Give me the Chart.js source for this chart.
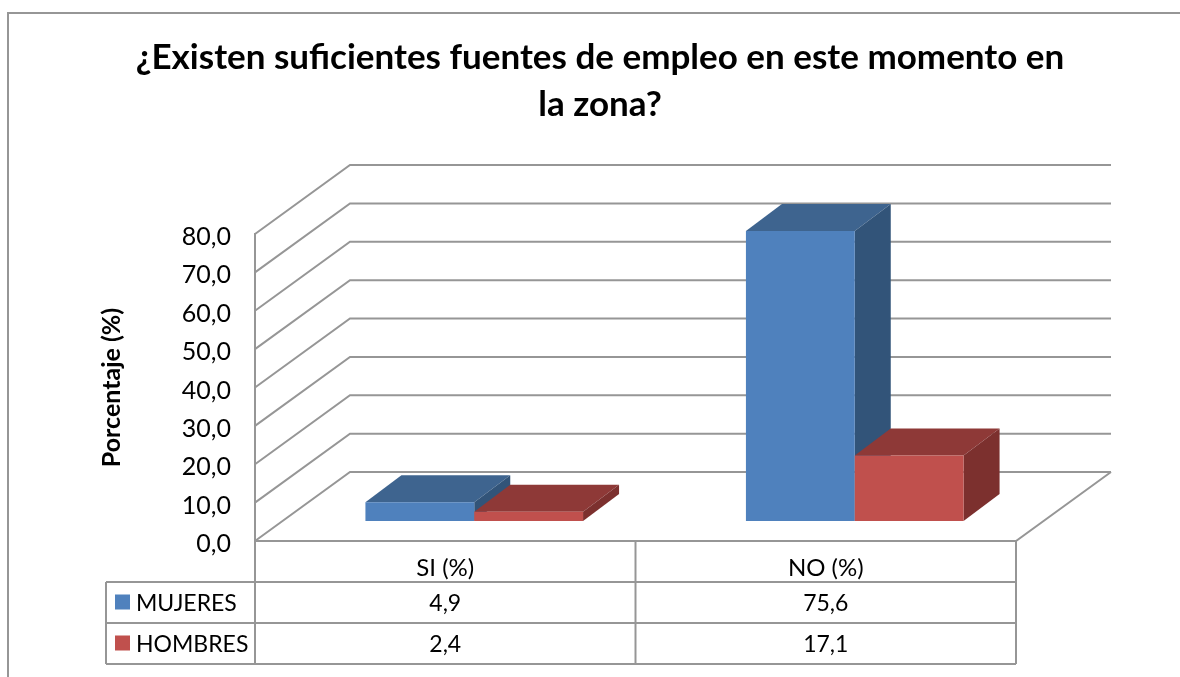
<!DOCTYPE html>
<html>
<head>
<meta charset="utf-8">
<script src="https://cdn.jsdelivr.net/npm/chart.js@4"></script>
<style>
  html, body { margin: 0; padding: 0; background: #fff; }
  canvas { display: block; }
</style>
</head>
<body>
<canvas id="myChart" width="1180" height="677"></canvas>
<script>
const titleLines = ["¿Existen suficientes fuentes de empleo en este momento en", "la zona?"];
const yAxisTitle = "Porcentaje (%)";
const categories = ["SI (%)", "NO (%)"];
const mujeres = [4.9, 75.6];
const hombres = [2.4, 17.1];
const yTicks = [0, 10, 20, 30, 40, 50, 60, 70, 80];

const fontName = "Lato, Carlito, Calibri, sans-serif";
const lineColor = "#969696";

// depth of the fake 3d box
const wallDx = 95, wallDy = -69;
const barShiftX = 29, barShiftY = -20;
const barDx = 36, barDy = -27;

function fmt(v) {
  return v.toFixed(1).replace(".", ",");
}

function line(ctx, pts) {
  ctx.beginPath();
  pts.forEach((p, i) => i ? ctx.lineTo(p[0], p[1]) : ctx.moveTo(p[0], p[1]));
  ctx.stroke();
}

function poly(ctx, pts, color) {
  ctx.fillStyle = color;
  ctx.beginPath();
  pts.forEach((p, i) => i ? ctx.lineTo(p[0], p[1]) : ctx.moveTo(p[0], p[1]));
  ctx.closePath();
  ctx.fill();
}

const box3d = {
  id: "box3d",
  afterLayout(chart) {
    // title sits a bit right of the frame center in the original
    chart.titleBlock.left = 20;
    chart.titleBlock.right = 1180;
    // tick labels sit a little low in the original
    const yScale = chart.scales.y;
    const drawLabels = yScale.constructor.prototype.drawLabels;
    yScale.drawLabels = function (area) {
      this.ctx.save();
      this.ctx.translate(0, 3);
      drawLabels.call(this, area);
      this.ctx.restore();
    };
  },
  beforeDraw(chart) {
    const ctx = chart.ctx;
    const { left, right, bottom } = chart.chartArea;
    const yScale = chart.scales.y;
    ctx.save();
    ctx.strokeStyle = lineColor;
    ctx.lineWidth = 2;

    // outer frame, the crop cuts it off on the right and bottom
    line(ctx, [[8, 677], [8, 13], [1180, 13]]);

    // walls and gridlines
    yTicks.forEach((v) => {
      const y = yScale.getPixelForValue(v);
      line(ctx, [[left, y], [left + wallDx, y + wallDy], [right + wallDx, y + wallDy]]);
    });
    // floor
    line(ctx, [[left, bottom], [right, bottom], [right + wallDx, bottom + wallDy]]);
    ctx.restore();
  },
  beforeDatasetsDraw(chart) {
    // draw first series first, the red roof has to lap over the blue side
    const ctx = chart.ctx;
    chart.data.datasets.forEach((ds, i) => {
      const meta = chart.getDatasetMeta(i);
      ctx.save();
      ctx.translate(barShiftX, barShiftY);
      meta.data.forEach((bar) => {
        const l = bar.x - bar.width / 2, r = bar.x + bar.width / 2;
        poly(ctx, [[l, bar.y], [l + barDx, bar.y + barDy], [r + barDx, bar.y + barDy], [r, bar.y]], ds.topColor);
        poly(ctx, [[r, bar.y], [r + barDx, bar.y + barDy], [r + barDx, bar.base + barDy], [r, bar.base]], ds.sideColor);
      });
      meta.controller.draw();
      ctx.restore();
    });
    return false;
  },
  afterDraw(chart) {
    // data table under the plot
    const ctx = chart.ctx;
    const x = chart.scales.x;
    const { left, right, bottom } = chart.chartArea;
    const mid = (x.getPixelForValue(0) + x.getPixelForValue(1)) / 2;
    const tableLeft = 106;
    const rows = [582, 623, 664];
    ctx.save();
    ctx.strokeStyle = lineColor;
    ctx.lineWidth = 2;
    rows.forEach((y) => line(ctx, [[tableLeft, y], [right, y]]));
    line(ctx, [[tableLeft, rows[0]], [tableLeft, rows[2]]]);
    [left, mid, right].forEach((px) => line(ctx, [[px, bottom], [px, rows[2]]]));

    ctx.font = "23px " + fontName;
    ctx.textBaseline = "middle";
    chart.data.datasets.forEach((ds, i) => {
      const y = (rows[i] + rows[i + 1]) / 2;
      ctx.fillStyle = ds.backgroundColor;
      ctx.fillRect(115, y - 8, 15, 15);
      ctx.fillStyle = "#000";
      ctx.textAlign = "left";
      ctx.fillText(ds.label, 136, y + 1);
      ctx.textAlign = "center";
      ds.data.forEach((v, j) => ctx.fillText(fmt(v), x.getPixelForValue(j), y + 1));
    });
    ctx.restore();
  }
};

new Chart(document.getElementById("myChart"), {
  type: "bar",
  data: {
    labels: categories,
    datasets: [
      {
        label: "MUJERES",
        data: mujeres,
        backgroundColor: "#4F81BD",
        topColor: "#3E648F",
        sideColor: "#325479"
      },
      {
        label: "HOMBRES",
        data: hombres,
        backgroundColor: "#C0504D",
        topColor: "#8E3937",
        sideColor: "#7C302E"
      }
    ]
  },
  options: {
    responsive: false,
    animation: false,
    layout: { padding: { left: 97, right: 164, top: 0, bottom: 0 } },
    datasets: { bar: { categoryPercentage: 0.572, barPercentage: 1 } },
    plugins: {
      legend: { display: false },
      tooltip: { enabled: false },
      title: {
        display: true,
        text: titleLines,
        color: "#000",
        font: { family: fontName, size: 35, weight: "bold", lineHeight: 1.343 },
        padding: { top: 34.5, bottom: 105.5 }
      }
    },
    scales: {
      x: {
        afterFit(scale) { scale.height = 136; },
        grid: { display: false },
        border: { display: false },
        ticks: { color: "#000", font: { family: fontName, size: 24 }, padding: 5, maxRotation: 0 }
      },
      y: {
        min: 0,
        max: 80,
        afterFit(scale) { scale.width = 158; },
        grid: { display: false },
        border: { display: true, color: lineColor, width: 2 },
        ticks: {
          stepSize: 10,
          color: "#000",
          padding: 16,
          font: { family: fontName, size: 25 },
          callback: (v) => fmt(v)
        },
        title: {
          display: true,
          text: yAxisTitle,
          color: "#000",
          font: { family: fontName, size: 25, weight: "bold" },
          padding: 0
        }
      }
    }
  },
  plugins: [box3d]
});
</script>
</body>
</html>
